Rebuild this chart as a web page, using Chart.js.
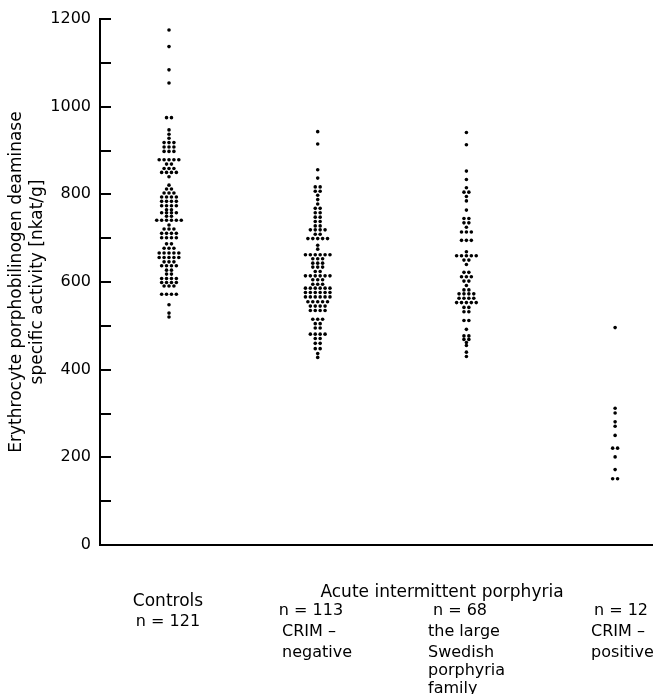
<!DOCTYPE html>
<html>
<head>
<meta charset="utf-8">
<script src="https://cdn.jsdelivr.net/npm/chart.js@4"></script>
<style>
  html, body { margin: 0; padding: 0; background: #fff; }
</style>
</head>
<body>
<canvas id="myChart" width="656" height="694"></canvas>
<script>
// groups along the x axis
const groups = ['Controls', 'CRIM-negative', 'Swedish family', 'CRIM-positive'];

// activity values [nkat/g] (equal values sit in one row)
const controls = [1175, 1137, 1084, 1054,
    975, 975, 947, 937, 928,
    918, 918, 918, 908, 908, 908, 898, 898, 898,
    879, 879, 879, 879, 879, 869, 869, 859, 859, 859,
    850, 850, 850, 850, 840, 821, 812, 812, 803, 803, 803,
    794, 794, 794, 794, 784, 784, 784, 784, 774, 774, 774, 774,
    765, 765, 758, 758, 758, 758, 750, 750,
    741, 741, 741, 741, 741, 741, 730, 721, 721, 721,
    711, 711, 711, 711, 701, 701, 701, 701, 687, 687, 677, 677, 677,
    666, 666, 666, 666, 666, 656, 656, 656, 656, 656, 646, 646, 646,
    637, 637, 637, 637, 627, 627, 618, 618, 608, 608, 608, 608,
    599, 599, 599, 599, 591, 591, 591, 572, 572, 572, 572,
    548, 529, 520];

const crimNegative = [943, 915, 856, 837, 817, 817, 807, 807, 798, 788, 778,
    768, 768, 758, 758, 748, 748, 738, 738, 728, 728,
    719, 719, 719, 719, 709, 709, 699, 699, 699, 699, 699, 684, 675,
    662, 662, 662, 662, 662, 662, 653, 653, 653, 643, 643, 643, 634, 634, 634,
    624, 624, 614, 614, 614, 614, 614, 614, 605, 605, 605, 595, 595, 595,
    586, 586, 586, 586, 586, 586, 576, 576, 576, 576, 576, 576,
    566, 566, 566, 566, 566, 566, 555, 555, 555, 555, 555, 545, 545, 545, 545,
    535, 535, 535, 535, 515, 515, 515, 505, 505, 495, 495,
    481, 481, 481, 481, 471, 471, 460, 460, 448, 448, 437, 428];

const swedishFamily = [941, 913, 853, 834, 815, 805, 805, 795, 785, 764,
    745, 745, 735, 735, 725, 714, 714, 714, 695, 695, 695, 669,
    660, 660, 660, 660, 660, 650, 650, 640, 622, 622, 612, 612, 612, 602, 602, 592,
    582, 582, 573, 573, 573, 573, 563, 563, 563, 563, 553, 553, 553, 553, 553,
    542, 542, 532, 532, 512, 512, 492, 477, 477, 469, 469, 462, 455, 440, 430];

const crimPositive = [496, 312, 301, 281, 271, 250, 221, 221, 201, 172, 151, 151];

const yTickValues = [100, 200, 300, 400, 500, 600, 700, 800, 900, 1000, 1100, 1200];

const dotStep = 0.033;

// spread equal values side by side (simple beeswarm)
function swarm(values, xc) {
    let rows = {};
    values.forEach(v => {
        if (!rows[v]) rows[v] = 0;
        rows[v]++;
    });
    let pts = [];
    Object.keys(rows).forEach(k => {
        let n = rows[k];
        for (let i = 0; i < n; i++) {
            pts.push({ x: xc + (i - (n - 1) / 2) * dotStep, y: Number(k) });
        }
    });
    return pts;
}

const innerTicks = {
    id: 'innerTicks',
    afterDraw(chart) {
        const { ctx, chartArea } = chart;
        const y = chart.scales.y;
        ctx.save();
        ctx.strokeStyle = '#000';
        ctx.lineWidth = 2;
        yTickValues.forEach(v => {
            let py = Math.round(y.getPixelForValue(v));
            ctx.beginPath();
            ctx.moveTo(chartArea.left, py);
            ctx.lineTo(chartArea.left + 11, py);
            ctx.stroke();
        });
        ctx.restore();
    }
};

// text under the x axis
const groupText = {
    id: 'groupText',
    afterDraw(chart) {
        const ctx = chart.ctx;
        ctx.save();
        ctx.fillStyle = '#000';
        ctx.textBaseline = 'middle';
        ctx.textAlign = 'center';
        ctx.font = '17px "DejaVu Sans"';
        ctx.fillText('Controls', 168, 602);
        ctx.fillText('Acute intermittent porphyria', 442, 593);
        ctx.font = '16px "DejaVu Sans"';
        ctx.fillText('n = 121', 168, 622);
        ctx.fillText('n = 113', 311, 611);
        ctx.fillText('n = 68', 460, 611);
        ctx.fillText('n = 12', 621, 611);
        ctx.textAlign = 'left';
        ctx.fillText('CRIM –', 282, 632);
        ctx.fillText('negative', 282, 653);
        ctx.fillText('the large', 428, 632);
        ctx.fillText('Swedish', 428, 653);
        ctx.fillText('porphyria', 428, 671);
        ctx.fillText('family', 428, 689);
        ctx.fillText('CRIM –', 591, 632);
        ctx.fillText('positive', 591, 653);
        ctx.restore();
    }
};

Chart.defaults.font.family = '"DejaVu Sans"';
Chart.defaults.color = '#000';

const series = [controls, crimNegative, swedishFamily, crimPositive];

const ctx = document.getElementById('myChart').getContext('2d');
const myChart = new Chart(ctx, {
    type: 'scatter',
    data: {
        datasets: series.map((vals, i) => ({
            label: groups[i],
            data: swarm(vals, i + 1),
            pointRadius: 1.8,
            pointBorderWidth: 0,
            backgroundColor: '#000',
            borderColor: '#000'
        }))
    },
    options: {
        responsive: false,
        animation: false,
        layout: { padding: { top: 19, right: 4, left: 0, bottom: 0 } },
        plugins: {
            legend: { display: false },
            tooltip: { enabled: false }
        },
        scales: {
            x: {
                type: 'linear',
                min: 0.536,
                max: 4.248,
                ticks: { display: false },
                grid: { display: false, drawTicks: false },
                border: { display: true, width: 2, color: '#000' },
                afterFit: s => { s.height = 149; }
            },
            y: {
                min: 0,
                max: 1200,
                ticks: {
                    stepSize: 100,
                    padding: 9,
                    font: { size: 16 },
                    callback: v => (v % 200 === 0 ? v : '')
                },
                grid: { display: false, drawTicks: false },
                border: { display: true, width: 2, color: '#000' },
                title: {
                    display: true,
                    text: ['Erythrocyte porphobilinogen deaminase', 'specific activity [nkat/g]'],
                    font: { size: 17, lineHeight: 1.25 },
                    padding: { top: 6, bottom: 0 }
                },
                afterFit: s => { s.width = 100; }
            }
        }
    },
    plugins: [innerTicks, groupText]
});
</script>
</body>
</html>
